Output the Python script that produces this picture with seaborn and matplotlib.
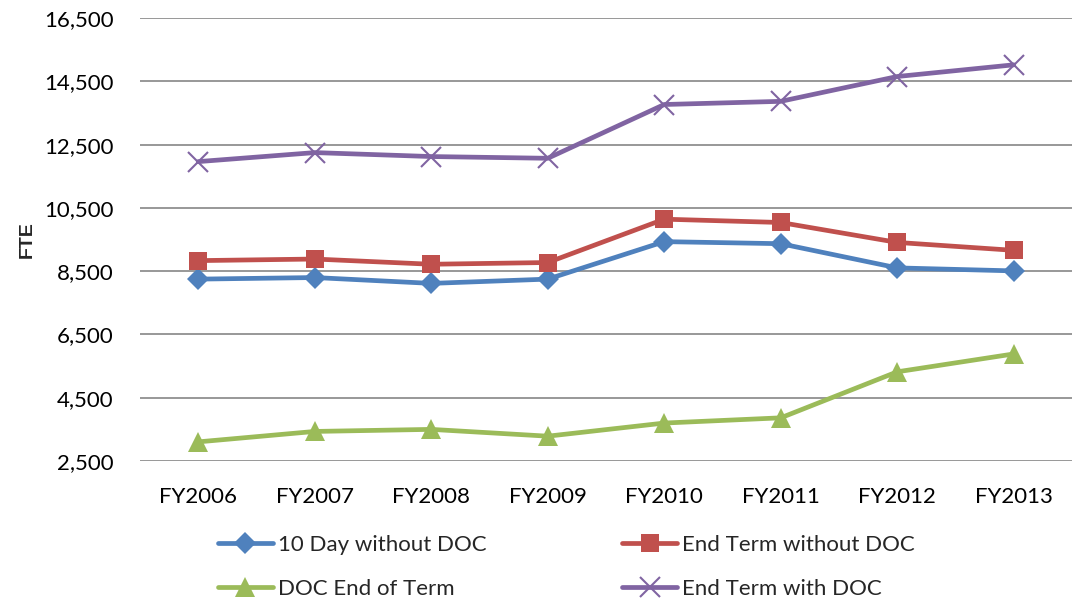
import pandas as pd
import matplotlib.pyplot as plt
import matplotlib.ticker as mticker
import seaborn as sns

years = ['FY2006', 'FY2007', 'FY2008', 'FY2009', 'FY2010', 'FY2011', 'FY2012', 'FY2013']
ten_day_without_doc = [8250, 8300, 8115, 8250, 9435, 9370, 8605, 8510]
end_term_without_doc = [8835, 8885, 8720, 8775, 10145, 10040, 9410, 9160]
doc_end_of_term = [3105, 3435, 3500, 3285, 3700, 3865, 5320, 5885]
end_term_with_doc = [11965, 12250, 12125, 12070, 13770, 13870, 14655, 15025]

series_names = ['10 Day without DOC', 'End Term without DOC', 'DOC End of Term', 'End Term with DOC']
series_values = [ten_day_without_doc, end_term_without_doc, doc_end_of_term, end_term_with_doc]

df = pd.DataFrame([
    {'year': y, 'FTE': v, 'series': name}
    for name, vals in zip(series_names, series_values)
    for y, v in zip(years, vals)
])

palette = {'10 Day without DOC': '#4F81BD', 'End Term without DOC': '#C0504D',
           'DOC End of Term': '#9BBB59', 'End Term with DOC': '#8064A2'}
markers = {'10 Day without DOC': 'D', 'End Term without DOC': 's',
           'DOC End of Term': '^', 'End Term with DOC': 'x'}
sizes = {'10 Day without DOC': 11, 'End Term without DOC': 13,
         'DOC End of Term': 14, 'End Term with DOC': 14}

sns.set_theme(style='white')
plt.rcParams['font.family'] = ['Lato', 'DejaVu Sans']

fig = plt.figure(figsize=(10.72, 6.05), dpi=100)
ax = fig.add_axes([0.1306, 0.238, 0.8694, 0.732])

for name in series_names:
    sub = df[df['series'] == name]
    sns.lineplot(data=sub, x='year', y='FTE', ax=ax, color=palette[name],
                 marker=markers[name], markersize=sizes[name], linewidth=3.4,
                 markeredgewidth=1.5 if name == 'End Term with DOC' else 0,
                 markeredgecolor=palette[name], label=name, sort=False)

ax.set_ylim(2500, 16500)
ax.set_xlim(-0.5, len(years) - 0.5)
ax.set_yticks(range(2500, 16501, 2000))
ax.yaxis.set_major_formatter(mticker.FuncFormatter(lambda v, p: f'{int(v):,}'))
ax.grid(axis='y', color='#868686', linewidth=1.2)
ax.grid(axis='x', visible=False)
for s in ax.spines.values():
    s.set_visible(False)
ax.tick_params(axis='both', length=0, labelsize=16, colors='black')
ax.tick_params(axis='y', pad=19)
ax.tick_params(axis='x', pad=19)
ax.set_xlabel('')
ax.set_ylabel('FTE', fontsize=14, fontweight='bold', family=['Liberation Sans', 'DejaVu Sans'],
              labelpad=6)

handles, labels = ax.get_legend_handles_labels()
order = [0, 2, 1, 3]
ax.legend([handles[i] for i in order], [labels[i] for i in order], ncol=2,
          loc='center', bbox_to_anchor=(0.528, 0.063), bbox_transform=fig.transFigure,
          frameon=False, fontsize=16, handlelength=2.5, handletextpad=0.2,
          columnspacing=6.1, labelspacing=1.05)

fig.savefig('out.png', dpi=100)
